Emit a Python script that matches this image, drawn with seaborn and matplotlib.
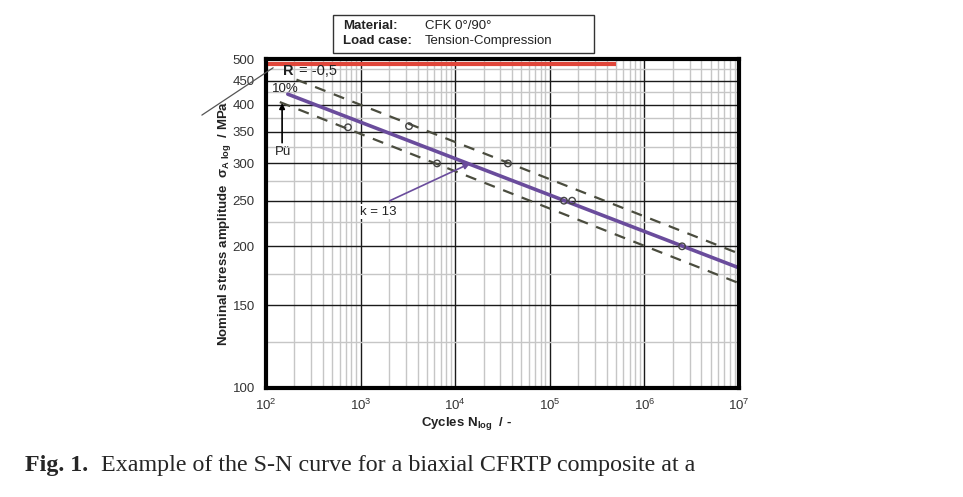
import numpy as np
import pandas as pd
import matplotlib
matplotlib.use("Agg")
import matplotlib.pyplot as plt
import seaborn as sns
from matplotlib.ticker import FixedLocator, LogLocator, NullFormatter, FixedFormatter
from matplotlib.patches import Rectangle

# ===================== 数据 =====================
# 平均 S-N 曲线 (k = 13)
N_mean = [170, 1e7]
S_mean = [421, 180]
# 10% / 90% 散带
N_upper = [210, 1e7]
S_upper = [452, 193]
N_lower = [140, 1e7]
S_lower = [405, 167]
# 静强度 (红线)
N_static = [100, 5e5]
S_static = [488, 488]
# 试验点
N_test = [736, 3250, 6430, 36100, 141000, 172000, 2.5e6]
S_test = [358, 360, 300, 300, 250, 250, 200]

y_ticks = [100, 150, 200, 250, 300, 350, 400, 450, 500]
y_minor = [125, 175, 225, 275, 325, 375, 425, 475]
x_ticks = [1e2, 1e3, 1e4, 1e5, 1e6, 1e7]
x_labels = [r"$10^{2}$", r"$10^{3}$", r"$10^{4}$", r"$10^{5}$", r"$10^{6}$", r"$10^{7}$"]

# 注释位置
k_arrow_from = (2040, 250)
k_arrow_to = (14360, 300)
k_text = (1530, 237)
pu_from = (148, 332)
pu_to = (148, 403)
pointer_from = (21, 380)
pointer_to = (119, 479)

lines = pd.concat([
    pd.DataFrame({"N": N_mean, "S": S_mean, "curve": "mean"}),
    pd.DataFrame({"N": N_upper, "S": S_upper, "curve": "upper"}),
    pd.DataFrame({"N": N_lower, "S": S_lower, "curve": "lower"}),
])
tests = pd.DataFrame({"N": N_test, "S": S_test})

# ===================== 样式 =====================
sns.set_style("white")
plt.rcParams['font.family'] = ['Liberation Sans', 'DejaVu Sans']
plt.rcParams['mathtext.fontset'] = 'custom'
plt.rcParams['mathtext.rm'] = 'Liberation Sans'
plt.rcParams['mathtext.bf'] = 'Liberation Sans:bold'
plt.rcParams['mathtext.it'] = 'Liberation Sans:italic'

fig = plt.figure(figsize=(9.63, 4.97), dpi=100)
ax = fig.add_axes([266 / 963, 109 / 497, 473 / 963, 329 / 497])
ax.set_xscale("log")
ax.set_yscale("log")
ax.set_xlim(1e2, 1e7)
ax.set_ylim(100, 500)

# 网格
ax.xaxis.set_major_locator(FixedLocator(x_ticks))
ax.xaxis.set_major_formatter(FixedFormatter(x_labels))
ax.xaxis.set_minor_locator(LogLocator(base=10, subs=np.arange(2, 10)))
ax.xaxis.set_minor_formatter(NullFormatter())
ax.yaxis.set_major_locator(FixedLocator(y_ticks))
ax.yaxis.set_major_formatter(FixedFormatter([str(v) for v in y_ticks]))
ax.yaxis.set_minor_locator(FixedLocator(y_minor))
ax.yaxis.set_minor_formatter(NullFormatter())
ax.grid(which="minor", color="#c6c6c6", linewidth=1.0)
ax.grid(which="major", color="#1a1a1a", linewidth=1.0)
ax.set_axisbelow(True)
ax.tick_params(which="both", length=0, labelsize=9.5, labelcolor="#333333")
ax.tick_params(axis="y", pad=8)
ax.tick_params(axis="x", pad=7)
for sp in ax.spines.values():
    sp.set_linewidth(3)
    sp.set_color("black")

# 曲线
sns.lineplot(data=lines[lines.curve == "upper"], x="N", y="S", ax=ax,
             color="#4a4c3e", linewidth=1.6, linestyle=(0, (5, 4)))
sns.lineplot(data=lines[lines.curve == "lower"], x="N", y="S", ax=ax,
             color="#4a4c3e", linewidth=1.6, linestyle=(0, (5, 4)))
sns.lineplot(data=lines[lines.curve == "mean"], x="N", y="S", ax=ax,
             color="#6a4c9c", linewidth=2.6)
ax.plot(N_static, S_static, color="#e0463a", linewidth=3, solid_capstyle="butt")
sns.scatterplot(data=tests, x="N", y="S", ax=ax, marker="o", s=22,
                facecolor="none", edgecolor="#444444", linewidth=1.0, zorder=5)

# 注释
ax.annotate("", xy=k_arrow_to, xytext=k_arrow_from,
            arrowprops=dict(arrowstyle="-|>", color="#6a4c9c", lw=1.2,
                            mutation_scale=9, shrinkA=0, shrinkB=0))
ax.text(k_text[0], k_text[1], "k = 13", fontsize=9.5, ha="center", va="center", color="#222222",
        bbox=dict(facecolor="white", edgecolor="none", pad=1))
ax.annotate("", xy=pu_to, xytext=pu_from,
            arrowprops=dict(arrowstyle="-|>", color="black", lw=1.2,
                            mutation_scale=8, shrinkA=0, shrinkB=0))
ax.text(151, 317, "Pü", fontsize=9.5, ha="center", va="center", color="#222222")
ax.text(115, 431, "10%", fontsize=9.5, ha="left", va="center", color="#222222")
ax.text(150, 471, "R", fontsize=10.5, fontweight="bold", ha="left", va="center", color="#222222")
ax.text(222, 471, "= -0,5", fontsize=10.5, ha="left", va="center", color="#222222")
ax.annotate("", xy=pointer_to, xytext=pointer_from, annotation_clip=False,
            arrowprops=dict(arrowstyle="-", color="#555555", lw=0.9, shrinkA=0, shrinkB=0))

ax.set_xlabel("")
ax.set_ylabel(r"Nominal stress amplitude  σ$_{\mathbf{A\ log}}$  / MPa", fontsize=9.5,
              fontweight="bold", labelpad=0, color="#222222")
fig.text(466 / 963, 1 - 423 / 497, r"Cycles N$_{\mathbf{log}}$  / -", fontsize=9.5,
         fontweight="bold", ha="center", va="center", color="#222222")

# 材料信息框
fig.patches.append(Rectangle((333 / 963, 1 - 53 / 497), 261 / 963, 38 / 497,
                             transform=fig.transFigure, facecolor="white",
                             edgecolor="#333333", linewidth=1.0))
fig.text(343 / 963, 1 - 26 / 497, "Material:", fontsize=9.5, fontweight="bold",
         va="center", color="#222222")
fig.text(343 / 963, 1 - 41 / 497, "Load case:", fontsize=9.5, fontweight="bold",
         va="center", color="#222222")
fig.text(425 / 963, 1 - 26 / 497, "CFK 0°/90°", fontsize=9.5, va="center", color="#222222")
fig.text(425 / 963, 1 - 41 / 497, "Tension-Compression", fontsize=9.5, va="center", color="#222222")

# 图注
fig.text(25 / 963, 1 - 466 / 497, "Fig. 1.", fontsize=17.3, fontweight="bold",
         family="Liberation Serif", va="center")
fig.text(101 / 963, 1 - 466 / 497, "Example of the S-N curve for a biaxial CFRTP composite at a",
         fontsize=17.3, family="Liberation Serif", va="center")

fig.savefig("out.png", dpi=100)
